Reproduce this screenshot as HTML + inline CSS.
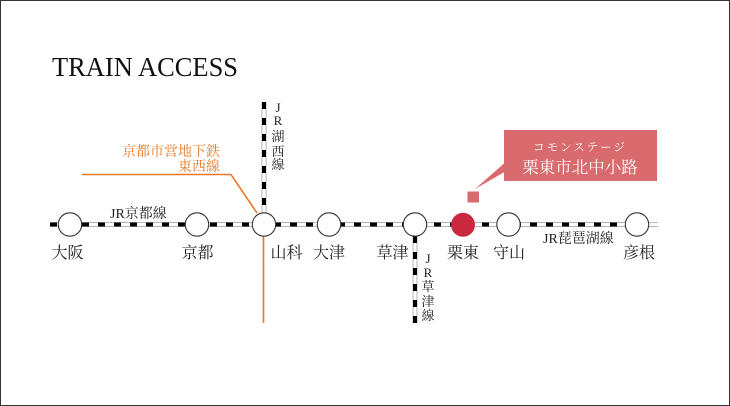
<!DOCTYPE html>
<html><head><meta charset="utf-8"><style>
html,body{margin:0;padding:0;background:#fff;}
svg{display:block;}
.st{font-family:"Liberation Serif","Noto Serif CJK SC",serif;font-size:16px;fill:#222;}
.sm{font-family:"Liberation Serif","Noto Serif CJK SC",serif;font-size:14px;fill:#222;}
.vt{font-family:"Liberation Serif","Noto Serif CJK SC",serif;font-size:13px;fill:#222;}
.or{font-family:"Liberation Serif","Noto Serif CJK SC",serif;font-size:14px;fill:#e8792b;}
</style></head><body>
<svg width="730" height="406" viewBox="0 0 730 406" xmlns="http://www.w3.org/2000/svg">
<rect x="0.5" y="0.5" width="729" height="405" fill="#fff" stroke="#333" stroke-width="1"/>
<text x="52" y="76" font-family="Liberation Serif, serif" font-size="27" fill="#111" textLength="186" lengthAdjust="spacingAndGlyphs">TRAIN ACCESS</text>

<!-- orange subway -->
<polyline points="82,174.5 231,174.5 257,213" fill="none" stroke="#e8792b" stroke-width="1.6"/>
<line x1="263.5" y1="236" x2="263.5" y2="323" stroke="#e8792b" stroke-width="1.6"/>
<text class="or" x="220" y="156" text-anchor="end">京都市営地下鉄</text>
<text class="or" x="220" y="171" text-anchor="end">東西線</text>

<!-- main horizontal track -->
<line x1="50" y1="224.5" x2="658" y2="224.5" stroke="#b5b5b5" stroke-width="5"/>
<line x1="50" y1="224.5" x2="658" y2="224.5" stroke="#fff" stroke-width="3"/>
<line x1="50" y1="224.5" x2="658" y2="224.5" stroke="#000" stroke-width="4" stroke-dasharray="7 9"/>

<!-- JR Kosei vertical -->
<line x1="264" y1="102" x2="264" y2="213" stroke="#b5b5b5" stroke-width="5"/>
<line x1="264" y1="102" x2="264" y2="213" stroke="#fff" stroke-width="3"/>
<line x1="264" y1="102" x2="264" y2="213" stroke="#000" stroke-width="4" stroke-dasharray="7 9"/>

<!-- JR Kusatsu vertical -->
<line x1="415" y1="236" x2="415" y2="323" stroke="#b5b5b5" stroke-width="5"/>
<line x1="415" y1="236" x2="415" y2="323" stroke="#fff" stroke-width="3"/>
<line x1="415" y1="236" x2="415" y2="323" stroke="#000" stroke-width="4" stroke-dasharray="7 9"/>

<!-- stations -->
<g fill="#fff" stroke="#333" stroke-width="1.1">
<circle cx="70" cy="224.5" r="11.7"/>
<circle cx="197" cy="224.5" r="11.7"/>
<circle cx="264" cy="224.5" r="11.7"/>
<circle cx="329" cy="224.5" r="11.7"/>
<circle cx="415" cy="224.5" r="11.7"/>
<circle cx="508.5" cy="224.5" r="11.7"/>
<circle cx="637" cy="224.5" r="11.7"/>
</g>
<circle cx="463" cy="224.8" r="12" fill="#c9283f"/>

<!-- station labels -->
<text class="st" x="67.5" y="258" text-anchor="middle">大阪</text>
<text class="st" x="197.5" y="258" text-anchor="middle">京都</text>
<text class="st" x="286.5" y="258" text-anchor="middle">山科</text>
<text class="st" x="329" y="258" text-anchor="middle">大津</text>
<text class="st" x="392.5" y="258" text-anchor="middle">草津</text>
<text class="st" x="463" y="258" text-anchor="middle">栗東</text>
<text class="st" x="509" y="258" text-anchor="middle">守山</text>
<text class="st" x="639" y="258" text-anchor="middle">彦根</text>

<!-- line labels -->
<text class="sm" x="110" y="218">JR京都線</text>
<text class="sm" x="543" y="243">JR琵琶湖線</text>

<g class="vt" text-anchor="middle">
<text x="278" y="112">J</text>
<text x="278" y="125">R</text>
<text x="278" y="141">湖</text>
<text x="278" y="156">西</text>
<text x="278" y="169">線</text>
<text x="428" y="263">J</text>
<text x="428" y="277">R</text>
<text x="428" y="291">草</text>
<text x="428" y="306">津</text>
<text x="428" y="320">線</text>
</g>

<!-- callout -->
<polygon points="504.5,163 475,189 504.5,172" fill="#d96a6e"/>
<rect x="504" y="130" width="153" height="51" fill="#d96a6e"/>
<rect x="467.5" y="191.5" width="11.5" height="11" fill="#d96a6e"/>
<text x="580" y="151" text-anchor="middle" font-family="Liberation Serif, Noto Serif CJK SC, serif" font-size="11.5" fill="#fff" letter-spacing="2">コモンステージ</text>
<text x="580" y="173" text-anchor="middle" font-family="Liberation Serif, Noto Serif CJK SC, serif" font-size="16.5" fill="#fff">栗東市北中小路</text>
</svg>
</body></html>
